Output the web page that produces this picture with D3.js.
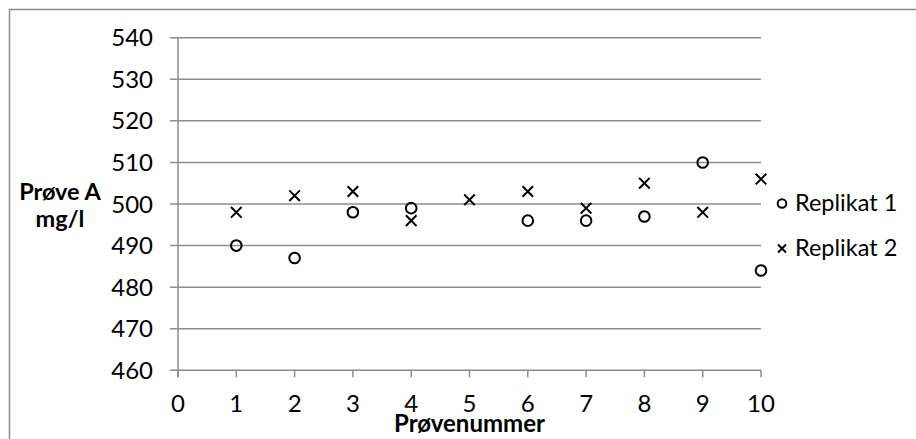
<!DOCTYPE html>
<html>
<head>
<meta charset="utf-8">
<script src="https://cdn.jsdelivr.net/npm/d3@7"></script>
<style>
  html, body { margin: 0; padding: 0; background: #fff; }
  svg { display: block; }
  text { font-family: Lato, "Open Sans", sans-serif; fill: #000; }
</style>
</head>
<body>
<svg id="chart" width="916" height="439"></svg>
<script>
// Sample numbers and the two replicate measurements (mg/l)
const samples = [1, 2, 3, 4, 5, 6, 7, 8, 9, 10];
const replikat1 = [490, 487, 498, 499, null, 496, 496, 497, 510, 484];
const replikat2 = [498, 502, 503, 496, 501, 503, 499, 505, 498, 506];
const xTicks = [0, 1, 2, 3, 4, 5, 6, 7, 8, 9, 10];
const yTicks = [460, 470, 480, 490, 500, 510, 520, 530, 540];
const seriesNames = ["Replikat 1", "Replikat 2"];

const svg = d3.select("#chart");
const grid = "#8c8c8c";

// Chart frame
svg.append("rect")
  .attr("x", 9.5).attr("y", 9.5)
  .attr("width", 1000).attr("height", 1000)
  .attr("fill", "none").attr("stroke", grid).attr("stroke-width", 1.5);

const x = d3.scaleLinear().domain([0, 10]).range([178, 761]);
const y = d3.scaleLinear().domain([460, 540]).range([370.3, 37.7]);

// Horizontal gridlines with left tick stubs
svg.append("g").selectAll("line").data(yTicks).join("line")
  .attr("x1", 170).attr("x2", x(10))
  .attr("y1", d => y(d)).attr("y2", d => y(d))
  .attr("stroke", grid).attr("stroke-width", 1.5);

// Vertical axis
svg.append("line")
  .attr("x1", x(0)).attr("x2", x(0))
  .attr("y1", y(540)).attr("y2", y(460) + 7)
  .attr("stroke", grid).attr("stroke-width", 1.5);

// Bottom tick marks
svg.append("g").selectAll("line").data(xTicks).join("line")
  .attr("x1", d => x(d)).attr("x2", d => x(d))
  .attr("y1", y(460)).attr("y2", y(460) + 7)
  .attr("stroke", grid).attr("stroke-width", 1.5);

// Tick labels
svg.append("g").selectAll("text").data(yTicks).join("text")
  .attr("x", 153).attr("y", d => y(d) + 8.5)
  .attr("text-anchor", "end").attr("font-size", 24)
  .text(d => d);

svg.append("g").selectAll("text").data(xTicks).join("text")
  .attr("x", d => x(d)).attr("y", 411.5)
  .attr("text-anchor", "middle").attr("font-size", 24)
  .text(d => d);

// Axis titles
svg.append("text")
  .attr("x", (x(0) + x(10)) / 2).attr("y", 432)
  .attr("text-anchor", "middle").attr("font-size", 24).attr("font-weight", "bold")
  .text("Prøvenummer");

const yTitle = svg.append("text")
  .attr("text-anchor", "middle").attr("font-size", 23.5).attr("font-weight", "bold");
yTitle.append("tspan").attr("x", 60).attr("y", 200).text("Prøve A");
yTitle.append("tspan").attr("x", 60).attr("y", 227).text("mg/l");

// Marker drawers
function circleMark(g, cx, cy, r) {
  g.append("circle").attr("cx", cx).attr("cy", cy).attr("r", r)
    .attr("fill", "none").attr("stroke", "#000").attr("stroke-width", 2);
}
function crossMark(g, cx, cy, h) {
  g.append("path")
    .attr("d", `M${cx - h},${cy - h}L${cx + h},${cy + h}M${cx - h},${cy + h}L${cx + h},${cy - h}`)
    .attr("stroke", "#000").attr("stroke-width", 2).attr("fill", "none");
}

const marks = svg.append("g");
samples.forEach((s, i) => {
  if (replikat1[i] != null) circleMark(marks, x(s), y(replikat1[i]), 5.3);
});
samples.forEach((s, i) => {
  if (replikat2[i] != null) crossMark(marks, x(s), y(replikat2[i]), 5.3);
});

// Legend
const legend = svg.append("g");
circleMark(legend, 782, 203.5, 4.3);
crossMark(legend, 782, 248.5, 4);
legend.selectAll("text").data(seriesNames).join("text")
  .attr("x", 795).attr("y", (d, i) => 211 + i * 45)
  .attr("font-size", 23.5)
  .text(d => d);
</script>
</body>
</html>
